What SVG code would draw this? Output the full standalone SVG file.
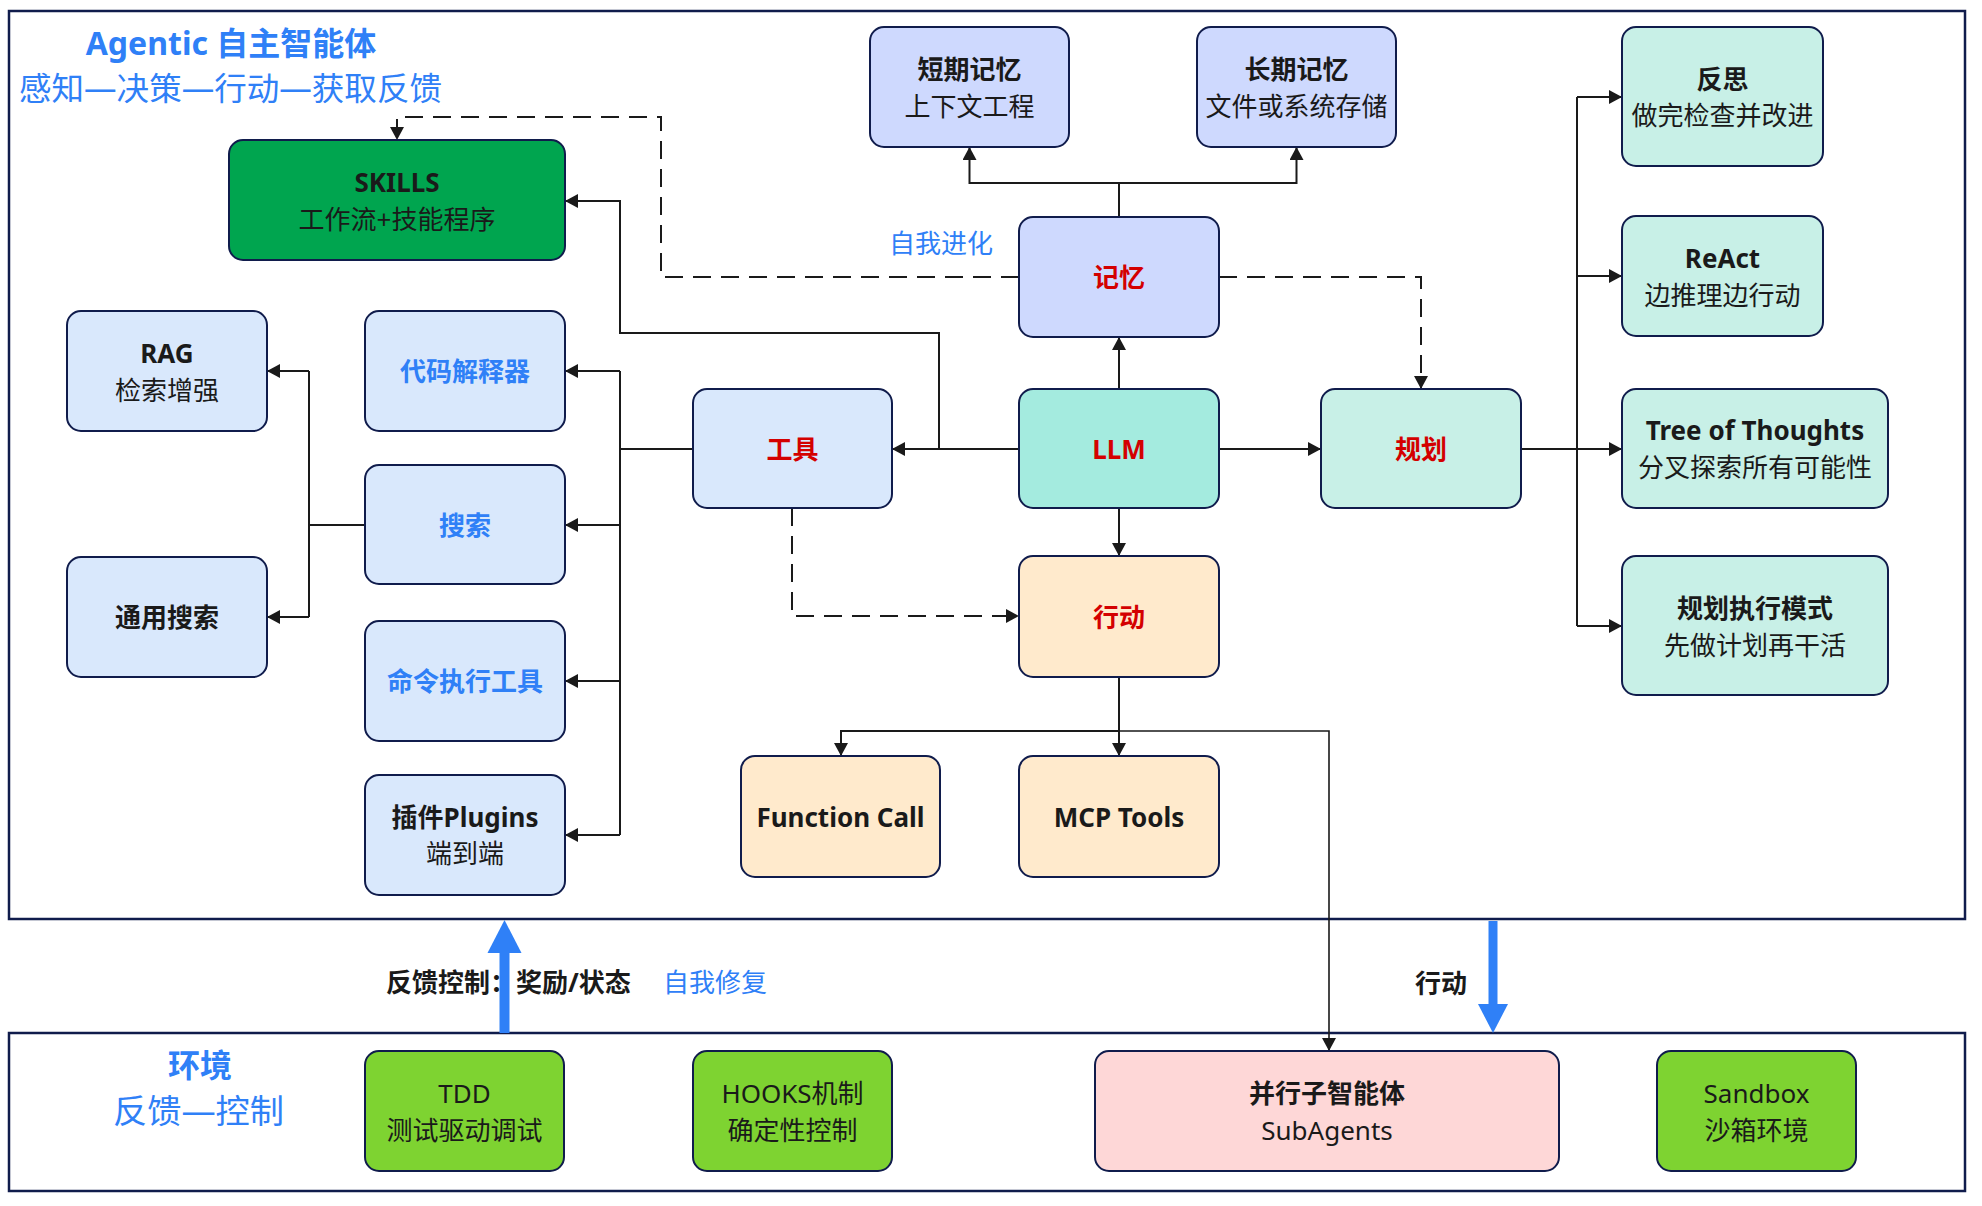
<svg xmlns="http://www.w3.org/2000/svg" width="1982" height="1206" viewBox="0 0 1982 1206">
<defs>
<marker id="ah" markerWidth="14" markerHeight="14" refX="13" refY="7" orient="auto" markerUnits="userSpaceOnUse"><path d="M0,0 L13,7 L0,14 z" fill="#1a1a1a"/></marker>
<style>
.n{stroke:#101c4c;stroke-width:2}
.t{font-family:"Noto Sans","Noto Sans CJK SC",sans-serif;font-size:26px;fill:#1a1a1a;text-anchor:middle;dominant-baseline:central}
.b{font-weight:bold}
.red{fill:#d40000;font-weight:bold}
.blue{fill:#2f80f7}
.c{fill:none;stroke:#1a1a1a;stroke-width:2}
.d{stroke-dasharray:18 10}
.frame{fill:none;stroke:#101c4c;stroke-width:2.5}
.f-skill{fill:#00a54f}
.f-mem{fill:#ced9fe}
.f-llm{fill:#a4ebdf}
.f-plan{fill:#c8f0e7}
.f-tool{fill:#d9e8fc}
.f-act{fill:#ffeacc}
.f-env{fill:#7ed331}
.f-sub{fill:#fed7d7}
</style>
</defs>
<rect width="1982" height="1206" fill="#ffffff"/>
<g id="frames">
<rect class="frame" x="9" y="11" width="1956" height="908"/>
<rect class="frame" x="9" y="1033" width="1956" height="158"/>
</g>
<g id="titles">
<text class="t b blue" x="231" y="42" style="font-size:32px">Agentic 自主智能体</text>
<text class="t blue" x="230.5" y="87" style="font-size:32px" textLength="423" lengthAdjust="spacingAndGlyphs">感知—决策—行动—获取反馈</text>
<text class="t blue" x="941" y="243">自我进化</text>
<text class="t b blue" x="200" y="1064" style="font-size:32px">环境</text>
<text class="t blue" x="198.5" y="1110" style="font-size:33px" textLength="171" lengthAdjust="spacingAndGlyphs">反馈—控制</text>
</g>
<g id="connectors">
<path class="c" d="M1119,389 V337" marker-end="url(#ah)"/>
<path class="c" d="M1119,217 V183 H969.5 V147" marker-end="url(#ah)"/>
<path class="c" d="M1119,183 H1296.5 V147" marker-end="url(#ah)"/>
<path class="c" d="M1019,449 H892" marker-end="url(#ah)"/>
<path class="c" d="M939,449 V333 H620 V201 H565" marker-end="url(#ah)"/>
<path class="c" d="M1219,449 H1321" marker-end="url(#ah)"/>
<path class="c" d="M1119,508 V556" marker-end="url(#ah)"/>
<path class="c" d="M1119,677 V756" marker-end="url(#ah)"/>
<path class="c" d="M1119,731 H841 V756" marker-end="url(#ah)"/>
<path class="c" d="M1119,731 H1329 V1051" style="stroke-width:1.6" marker-end="url(#ah)"/>
<path class="c" d="M692,449 H620 M620,371 V835"/>
<path class="c" d="M620,371 H565" marker-end="url(#ah)"/>
<path class="c" d="M620,525 H565" marker-end="url(#ah)"/>
<path class="c" d="M620,681 H565" marker-end="url(#ah)"/>
<path class="c" d="M620,835 H565" marker-end="url(#ah)"/>
<path class="c" d="M365,525 H309 M309,371 V617"/>
<path class="c" d="M309,371 H267" marker-end="url(#ah)"/>
<path class="c" d="M309,617 H267" marker-end="url(#ah)"/>
<path class="c" d="M1521,449 H1577 M1577,97 V626"/>
<path class="c" d="M1577,97 H1622" marker-end="url(#ah)"/>
<path class="c" d="M1577,276 H1622" marker-end="url(#ah)"/>
<path class="c" d="M1577,449 H1622" marker-end="url(#ah)"/>
<path class="c" d="M1577,626 H1622" marker-end="url(#ah)"/>
<path class="c d" d="M1019,277 H661 V117 H397 V140" marker-end="url(#ah)"/>
<path class="c d" d="M1219,277 H1421 V389" marker-end="url(#ah)"/>
<path class="c d" d="M792,508 V616 H1019" marker-end="url(#ah)"/>
<path d="M504.5,1033 V950" stroke="#2f80f7" stroke-width="10" fill="none"/>
<polygon points="487.5,953 521.5,953 504.5,920" fill="#2f80f7"/>
<path d="M1493,921 V1006" stroke="#2f80f7" stroke-width="9" fill="none"/>
<polygon points="1478,1004 1508,1004 1493,1033" fill="#2f80f7"/>
</g>
<g id="edge-labels">
<text class="t b" x="386" y="982" style="text-anchor:start">反馈控制：奖励/状态</text>
<text class="t blue" x="663" y="982" style="text-anchor:start">自我修复</text>
<text class="t b" x="1441" y="983">行动</text>
</g>
<g id="node-skills"><rect class="n f-skill" x="229" y="140" width="336" height="120" rx="14"/><text class="t b" x="397" y="182">SKILLS</text><text class="t" x="397" y="219">工作流+技能程序</text></g>
<g id="node-short-mem"><rect class="n f-mem" x="870" y="27" width="199" height="120" rx="14"/><text class="t b" x="969.5" y="69">短期记忆</text><text class="t" x="969.5" y="106">上下文工程</text></g>
<g id="node-long-mem"><rect class="n f-mem" x="1197" y="27" width="199" height="120" rx="14"/><text class="t b" x="1296.5" y="69">长期记忆</text><text class="t" x="1296.5" y="106">文件或系统存储</text></g>
<g id="node-memory"><rect class="n f-mem" x="1019" y="217" width="200" height="120" rx="14"/><text class="t red" x="1119" y="277">记忆</text></g>
<g id="node-llm"><rect class="n f-llm" x="1019" y="389" width="200" height="119" rx="14"/><text class="t red" x="1119" y="448.5">LLM</text></g>
<g id="node-tools"><rect class="n f-tool" x="693" y="389" width="199" height="119" rx="14"/><text class="t red" x="792.5" y="448.5">工具</text></g>
<g id="node-plan"><rect class="n f-plan" x="1321" y="389" width="200" height="119" rx="14"/><text class="t red" x="1421" y="448.5">规划</text></g>
<g id="node-action"><rect class="n f-act" x="1019" y="556" width="200" height="121" rx="14"/><text class="t red" x="1119" y="616.5">行动</text></g>
<g id="node-function-call"><rect class="n f-act" x="741" y="756" width="199" height="121" rx="14"/><text class="t b" x="840.5" y="816.5">Function Call</text></g>
<g id="node-mcp"><rect class="n f-act" x="1019" y="756" width="200" height="121" rx="14"/><text class="t b" x="1119" y="816.5">MCP Tools</text></g>
<g id="node-reflect"><rect class="n f-plan" x="1622" y="27" width="201" height="139" rx="14"/><text class="t b" x="1722.5" y="79">反思</text><text class="t" x="1722.5" y="115">做完检查并改进</text></g>
<g id="node-react"><rect class="n f-plan" x="1622" y="216" width="201" height="120" rx="14"/><text class="t b" x="1722.5" y="258">ReAct</text><text class="t" x="1722.5" y="295">边推理边行动</text></g>
<g id="node-tot"><rect class="n f-plan" x="1622" y="389" width="266" height="119" rx="14"/><text class="t b" x="1755" y="430">Tree of Thoughts</text><text class="t" x="1755" y="467">分叉探索所有可能性</text></g>
<g id="node-plan-exec"><rect class="n f-plan" x="1622" y="556" width="266" height="139" rx="14"/><text class="t b" x="1755" y="608">规划执行模式</text><text class="t" x="1755" y="645">先做计划再干活</text></g>
<g id="node-rag"><rect class="n f-tool" x="67" y="311" width="200" height="120" rx="14"/><text class="t b" x="167" y="353">RAG</text><text class="t" x="167" y="390">检索增强</text></g>
<g id="node-general-search"><rect class="n f-tool" x="67" y="557" width="200" height="120" rx="14"/><text class="t b" x="167" y="617">通用搜索</text></g>
<g id="node-code"><rect class="n f-tool" x="365" y="311" width="200" height="120" rx="14"/><text class="t b blue" x="465" y="371">代码解释器</text></g>
<g id="node-search"><rect class="n f-tool" x="365" y="465" width="200" height="119" rx="14"/><text class="t b blue" x="465" y="524.5">搜索</text></g>
<g id="node-cmd"><rect class="n f-tool" x="365" y="621" width="200" height="120" rx="14"/><text class="t b blue" x="465" y="681">命令执行工具</text></g>
<g id="node-plugins"><rect class="n f-tool" x="365" y="775" width="200" height="120" rx="14"/><text class="t b" x="465" y="817">插件Plugins</text><text class="t" x="465" y="853">端到端</text></g>
<g id="node-tdd"><rect class="n f-env" x="365" y="1051" width="199" height="120" rx="14"/><text class="t" x="464.5" y="1093">TDD</text><text class="t" x="464.5" y="1130">测试驱动调试</text></g>
<g id="node-hooks"><rect class="n f-env" x="693" y="1051" width="199" height="120" rx="14"/><text class="t" x="792.5" y="1093">HOOKS机制</text><text class="t" x="792.5" y="1130">确定性控制</text></g>
<g id="node-subagents"><rect class="n f-sub" x="1095" y="1051" width="464" height="120" rx="14"/><text class="t b" x="1327" y="1093">并行子智能体</text><text class="t" x="1327" y="1130">SubAgents</text></g>
<g id="node-sandbox"><rect class="n f-env" x="1657" y="1051" width="199" height="120" rx="14"/><text class="t" x="1756.5" y="1093">Sandbox</text><text class="t" x="1756.5" y="1130">沙箱环境</text></g>
</svg>
